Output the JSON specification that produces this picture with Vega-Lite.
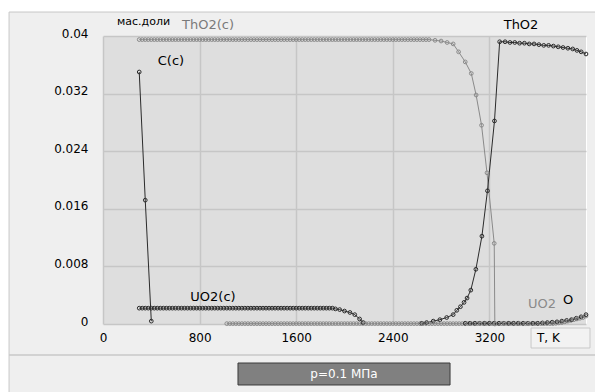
{
  "$schema": "https://vega.github.io/schema/vega-lite/v6.json",
  "width": 483,
  "height": 288,
  "autosize": "none",
  "padding": {"left": 103, "top": 36, "right": 9, "bottom": 68},
  "background": "#efefef",
  "config": {
    "view": {"fill": "#dedede", "stroke": "#ffffff", "strokeWidth": 1},
    "text": {"font": "DejaVu Sans", "fontSize": 12}
  },
  "datasets": {
    "one": [{}],
    "series": [
      {"s":"ThO2(c)","T":300,"v":0.0395},{"s":"ThO2(c)","T":325,"v":0.0395},{"s":"ThO2(c)","T":350,"v":0.0395},{"s":"ThO2(c)","T":375,"v":0.0395},{"s":"ThO2(c)","T":400,"v":0.0395},{"s":"ThO2(c)","T":425,"v":0.0395},{"s":"ThO2(c)","T":450,"v":0.0395},{"s":"ThO2(c)","T":475,"v":0.0395},{"s":"ThO2(c)","T":500,"v":0.0395},{"s":"ThO2(c)","T":525,"v":0.0395},{"s":"ThO2(c)","T":550,"v":0.0395},{"s":"ThO2(c)","T":575,"v":0.0395},{"s":"ThO2(c)","T":600,"v":0.0395},{"s":"ThO2(c)","T":625,"v":0.0395},{"s":"ThO2(c)","T":650,"v":0.0395},{"s":"ThO2(c)","T":675,"v":0.0395},{"s":"ThO2(c)","T":700,"v":0.0395},{"s":"ThO2(c)","T":725,"v":0.0395},{"s":"ThO2(c)","T":750,"v":0.0395},{"s":"ThO2(c)","T":775,"v":0.0395},{"s":"ThO2(c)","T":800,"v":0.0395},{"s":"ThO2(c)","T":825,"v":0.0395},{"s":"ThO2(c)","T":850,"v":0.0395},{"s":"ThO2(c)","T":875,"v":0.0395},{"s":"ThO2(c)","T":900,"v":0.0395},{"s":"ThO2(c)","T":925,"v":0.0395},{"s":"ThO2(c)","T":950,"v":0.0395},{"s":"ThO2(c)","T":975,"v":0.0395},{"s":"ThO2(c)","T":1000,"v":0.0395},{"s":"ThO2(c)","T":1025,"v":0.0395},{"s":"ThO2(c)","T":1050,"v":0.0395},{"s":"ThO2(c)","T":1075,"v":0.0395},{"s":"ThO2(c)","T":1100,"v":0.0395},{"s":"ThO2(c)","T":1125,"v":0.0395},{"s":"ThO2(c)","T":1150,"v":0.0395},{"s":"ThO2(c)","T":1175,"v":0.0395},{"s":"ThO2(c)","T":1200,"v":0.0395},{"s":"ThO2(c)","T":1225,"v":0.0395},{"s":"ThO2(c)","T":1250,"v":0.0395},{"s":"ThO2(c)","T":1275,"v":0.0395},{"s":"ThO2(c)","T":1300,"v":0.0395},{"s":"ThO2(c)","T":1325,"v":0.0395},{"s":"ThO2(c)","T":1350,"v":0.0395},{"s":"ThO2(c)","T":1375,"v":0.0395},{"s":"ThO2(c)","T":1400,"v":0.0395},{"s":"ThO2(c)","T":1425,"v":0.0395},{"s":"ThO2(c)","T":1450,"v":0.0395},{"s":"ThO2(c)","T":1475,"v":0.0395},{"s":"ThO2(c)","T":1500,"v":0.0395},{"s":"ThO2(c)","T":1525,"v":0.0395},{"s":"ThO2(c)","T":1550,"v":0.0395},{"s":"ThO2(c)","T":1575,"v":0.0395},{"s":"ThO2(c)","T":1600,"v":0.0395},{"s":"ThO2(c)","T":1625,"v":0.0395},{"s":"ThO2(c)","T":1650,"v":0.0395},{"s":"ThO2(c)","T":1675,"v":0.0395},{"s":"ThO2(c)","T":1700,"v":0.0395},{"s":"ThO2(c)","T":1725,"v":0.0395},{"s":"ThO2(c)","T":1750,"v":0.0395},{"s":"ThO2(c)","T":1775,"v":0.0395},{"s":"ThO2(c)","T":1800,"v":0.0395},{"s":"ThO2(c)","T":1825,"v":0.0395},{"s":"ThO2(c)","T":1850,"v":0.0395},{"s":"ThO2(c)","T":1875,"v":0.0395},{"s":"ThO2(c)","T":1900,"v":0.0395},{"s":"ThO2(c)","T":1925,"v":0.0395},{"s":"ThO2(c)","T":1950,"v":0.0395},{"s":"ThO2(c)","T":1975,"v":0.0395},{"s":"ThO2(c)","T":2000,"v":0.0395},{"s":"ThO2(c)","T":2025,"v":0.0395},{"s":"ThO2(c)","T":2050,"v":0.0395},{"s":"ThO2(c)","T":2075,"v":0.0395},{"s":"ThO2(c)","T":2100,"v":0.0395},{"s":"ThO2(c)","T":2125,"v":0.0395},{"s":"ThO2(c)","T":2150,"v":0.0395},{"s":"ThO2(c)","T":2175,"v":0.0395},{"s":"ThO2(c)","T":2200,"v":0.0395},{"s":"ThO2(c)","T":2225,"v":0.0395},{"s":"ThO2(c)","T":2250,"v":0.0395},{"s":"ThO2(c)","T":2275,"v":0.0395},{"s":"ThO2(c)","T":2300,"v":0.0395},{"s":"ThO2(c)","T":2325,"v":0.0395},{"s":"ThO2(c)","T":2350,"v":0.0395},{"s":"ThO2(c)","T":2375,"v":0.0395},{"s":"ThO2(c)","T":2400,"v":0.0395},{"s":"ThO2(c)","T":2425,"v":0.0395},{"s":"ThO2(c)","T":2450,"v":0.0395},{"s":"ThO2(c)","T":2475,"v":0.0395},{"s":"ThO2(c)","T":2500,"v":0.0395},{"s":"ThO2(c)","T":2525,"v":0.0395},{"s":"ThO2(c)","T":2550,"v":0.0395},{"s":"ThO2(c)","T":2575,"v":0.0395},{"s":"ThO2(c)","T":2600,"v":0.0395},{"s":"ThO2(c)","T":2625,"v":0.0395},{"s":"ThO2(c)","T":2650,"v":0.0395},{"s":"ThO2(c)","T":2675,"v":0.0395},{"s":"ThO2(c)","T":2700,"v":0.0395},
      {"s":"ThO2(c)","T":2750,"v":0.0394},{"s":"ThO2(c)","T":2800,"v":0.0393},{"s":"ThO2(c)","T":2850,"v":0.0391},{"s":"ThO2(c)","T":2900,"v":0.0389},{"s":"ThO2(c)","T":2945,"v":0.0378},{"s":"ThO2(c)","T":3000,"v":0.0364},{"s":"ThO2(c)","T":3050,"v":0.0348},{"s":"ThO2(c)","T":3090,"v":0.0318},{"s":"ThO2(c)","T":3135,"v":0.0276},{"s":"ThO2(c)","T":3180,"v":0.021},{"s":"ThO2(c)","T":3240,"v":0.0112},{"s":"ThO2(c)","T":3245,"v":0},

      {"s":"UO2","T":1025,"v":0.00005},{"s":"UO2","T":1050,"v":0.00005},{"s":"UO2","T":1075,"v":0.00005},{"s":"UO2","T":1100,"v":0.00005},{"s":"UO2","T":1125,"v":0.00005},{"s":"UO2","T":1150,"v":0.00005},{"s":"UO2","T":1175,"v":0.00005},{"s":"UO2","T":1200,"v":0.00005},{"s":"UO2","T":1225,"v":0.00005},{"s":"UO2","T":1250,"v":0.00005},{"s":"UO2","T":1275,"v":0.00005},{"s":"UO2","T":1300,"v":0.00005},{"s":"UO2","T":1325,"v":0.00005},{"s":"UO2","T":1350,"v":0.00005},{"s":"UO2","T":1375,"v":0.00005},{"s":"UO2","T":1400,"v":0.00005},{"s":"UO2","T":1425,"v":0.00005},{"s":"UO2","T":1450,"v":0.00005},{"s":"UO2","T":1475,"v":0.00005},{"s":"UO2","T":1500,"v":0.00005},{"s":"UO2","T":1525,"v":0.00005},{"s":"UO2","T":1550,"v":0.00005},{"s":"UO2","T":1575,"v":0.00005},{"s":"UO2","T":1600,"v":0.00005},{"s":"UO2","T":1625,"v":0.00005},{"s":"UO2","T":1650,"v":0.00005},{"s":"UO2","T":1675,"v":0.00005},{"s":"UO2","T":1700,"v":0.00005},{"s":"UO2","T":1725,"v":0.00005},{"s":"UO2","T":1750,"v":0.00005},{"s":"UO2","T":1775,"v":0.00005},{"s":"UO2","T":1800,"v":0.00005},{"s":"UO2","T":1825,"v":0.00005},{"s":"UO2","T":1850,"v":0.00005},{"s":"UO2","T":1875,"v":0.00005},{"s":"UO2","T":1900,"v":0.00005},{"s":"UO2","T":1925,"v":0.00005},{"s":"UO2","T":1950,"v":0.00005},{"s":"UO2","T":1975,"v":0.00005},{"s":"UO2","T":2000,"v":0.00005},{"s":"UO2","T":2025,"v":0.00005},{"s":"UO2","T":2050,"v":0.00005},{"s":"UO2","T":2075,"v":0.00005},{"s":"UO2","T":2100,"v":0.00005},{"s":"UO2","T":2125,"v":0.00005},{"s":"UO2","T":2150,"v":0.00005},{"s":"UO2","T":2175,"v":0.00005},{"s":"UO2","T":2200,"v":0.00005},{"s":"UO2","T":2225,"v":0.00005},{"s":"UO2","T":2250,"v":0.00005},{"s":"UO2","T":2275,"v":0.00005},{"s":"UO2","T":2300,"v":0.00005},{"s":"UO2","T":2325,"v":0.00005},{"s":"UO2","T":2350,"v":0.00005},{"s":"UO2","T":2375,"v":0.00005},{"s":"UO2","T":2400,"v":0.00005},{"s":"UO2","T":2425,"v":0.00005},{"s":"UO2","T":2450,"v":0.00005},{"s":"UO2","T":2475,"v":0.00005},{"s":"UO2","T":2500,"v":0.00005},{"s":"UO2","T":2525,"v":0.00005},{"s":"UO2","T":2550,"v":0.00005},{"s":"UO2","T":2575,"v":0.00005},{"s":"UO2","T":2600,"v":0.00005},{"s":"UO2","T":2625,"v":0.00005},{"s":"UO2","T":2650,"v":0.00005},{"s":"UO2","T":2675,"v":0.00005},{"s":"UO2","T":2700,"v":0.00005},{"s":"UO2","T":2725,"v":0.00005},{"s":"UO2","T":2750,"v":0.00005},{"s":"UO2","T":2775,"v":0.00005},{"s":"UO2","T":2800,"v":0.00005},{"s":"UO2","T":2825,"v":0.00005},{"s":"UO2","T":2850,"v":0.00005},{"s":"UO2","T":2875,"v":0.00005},{"s":"UO2","T":2900,"v":0.00005},{"s":"UO2","T":2925,"v":0.00005},{"s":"UO2","T":2950,"v":0.00005},{"s":"UO2","T":2975,"v":0.00005},{"s":"UO2","T":3000,"v":0.00005},{"s":"UO2","T":3025,"v":0.00005},{"s":"UO2","T":3050,"v":0.00005},{"s":"UO2","T":3075,"v":0.00005},{"s":"UO2","T":3100,"v":0.00005},{"s":"UO2","T":3125,"v":0.00005},{"s":"UO2","T":3150,"v":0.00005},{"s":"UO2","T":3175,"v":0.00005},{"s":"UO2","T":3200,"v":0.00005},{"s":"UO2","T":3225,"v":0.00005},{"s":"UO2","T":3250,"v":0.00005},{"s":"UO2","T":3275,"v":0.00005},{"s":"UO2","T":3300,"v":0.00005},{"s":"UO2","T":3325,"v":0.00005},{"s":"UO2","T":3350,"v":0.00005},{"s":"UO2","T":3375,"v":0.00005},{"s":"UO2","T":3400,"v":0.00005},{"s":"UO2","T":3425,"v":0.00005},{"s":"UO2","T":3450,"v":0.00005},{"s":"UO2","T":3475,"v":0.00005},{"s":"UO2","T":3500,"v":0.00005},{"s":"UO2","T":3525,"v":0.00005},{"s":"UO2","T":3550,"v":0.00005},{"s":"UO2","T":3575,"v":0.00005},{"s":"UO2","T":3600,"v":0.00005},{"s":"UO2","T":3625,"v":0.00005},{"s":"UO2","T":3650,"v":0.00005},{"s":"UO2","T":3675,"v":0.00005},{"s":"UO2","T":3700,"v":0.00005},{"s":"UO2","T":3725,"v":0.00005},
      {"s":"UO2","T":3750,"v":0.0001},{"s":"UO2","T":3775,"v":0.00015},{"s":"UO2","T":3800,"v":0.0002},{"s":"UO2","T":3825,"v":0.0003},{"s":"UO2","T":3850,"v":0.0004},{"s":"UO2","T":3875,"v":0.0005},{"s":"UO2","T":3900,"v":0.0006},{"s":"UO2","T":3925,"v":0.0007},{"s":"UO2","T":3950,"v":0.0008},{"s":"UO2","T":3975,"v":0.0009},{"s":"UO2","T":4000,"v":0.0011},

      {"s":"UO2(c)","T":300,"v":0.0022},{"s":"UO2(c)","T":325,"v":0.0022},{"s":"UO2(c)","T":350,"v":0.0022},{"s":"UO2(c)","T":375,"v":0.0022},{"s":"UO2(c)","T":400,"v":0.0022},{"s":"UO2(c)","T":425,"v":0.0022},{"s":"UO2(c)","T":450,"v":0.0022},{"s":"UO2(c)","T":475,"v":0.0022},{"s":"UO2(c)","T":500,"v":0.0022},{"s":"UO2(c)","T":525,"v":0.0022},{"s":"UO2(c)","T":550,"v":0.0022},{"s":"UO2(c)","T":575,"v":0.0022},{"s":"UO2(c)","T":600,"v":0.0022},{"s":"UO2(c)","T":625,"v":0.0022},{"s":"UO2(c)","T":650,"v":0.0022},{"s":"UO2(c)","T":675,"v":0.0022},{"s":"UO2(c)","T":700,"v":0.0022},{"s":"UO2(c)","T":725,"v":0.0022},{"s":"UO2(c)","T":750,"v":0.0022},{"s":"UO2(c)","T":775,"v":0.0022},{"s":"UO2(c)","T":800,"v":0.0022},{"s":"UO2(c)","T":825,"v":0.0022},{"s":"UO2(c)","T":850,"v":0.0022},{"s":"UO2(c)","T":875,"v":0.0022},{"s":"UO2(c)","T":900,"v":0.0022},{"s":"UO2(c)","T":925,"v":0.0022},{"s":"UO2(c)","T":950,"v":0.0022},{"s":"UO2(c)","T":975,"v":0.0022},{"s":"UO2(c)","T":1000,"v":0.0022},{"s":"UO2(c)","T":1025,"v":0.0022},{"s":"UO2(c)","T":1050,"v":0.0022},{"s":"UO2(c)","T":1075,"v":0.0022},{"s":"UO2(c)","T":1100,"v":0.0022},{"s":"UO2(c)","T":1125,"v":0.0022},{"s":"UO2(c)","T":1150,"v":0.0022},{"s":"UO2(c)","T":1175,"v":0.0022},{"s":"UO2(c)","T":1200,"v":0.0022},{"s":"UO2(c)","T":1225,"v":0.0022},{"s":"UO2(c)","T":1250,"v":0.0022},{"s":"UO2(c)","T":1275,"v":0.0022},{"s":"UO2(c)","T":1300,"v":0.0022},{"s":"UO2(c)","T":1325,"v":0.0022},{"s":"UO2(c)","T":1350,"v":0.0022},{"s":"UO2(c)","T":1375,"v":0.0022},{"s":"UO2(c)","T":1400,"v":0.0022},{"s":"UO2(c)","T":1425,"v":0.0022},{"s":"UO2(c)","T":1450,"v":0.0022},{"s":"UO2(c)","T":1475,"v":0.0022},{"s":"UO2(c)","T":1500,"v":0.0022},{"s":"UO2(c)","T":1525,"v":0.0022},{"s":"UO2(c)","T":1550,"v":0.0022},{"s":"UO2(c)","T":1575,"v":0.0022},{"s":"UO2(c)","T":1600,"v":0.0022},{"s":"UO2(c)","T":1625,"v":0.0022},{"s":"UO2(c)","T":1650,"v":0.0022},{"s":"UO2(c)","T":1675,"v":0.0022},{"s":"UO2(c)","T":1700,"v":0.0022},{"s":"UO2(c)","T":1725,"v":0.0022},{"s":"UO2(c)","T":1750,"v":0.0022},{"s":"UO2(c)","T":1775,"v":0.0022},{"s":"UO2(c)","T":1800,"v":0.0022},{"s":"UO2(c)","T":1825,"v":0.0022},{"s":"UO2(c)","T":1850,"v":0.0022},{"s":"UO2(c)","T":1875,"v":0.0022},
      {"s":"UO2(c)","T":1900,"v":0.0022},{"s":"UO2(c)","T":1925,"v":0.0021},{"s":"UO2(c)","T":1960,"v":0.002},{"s":"UO2(c)","T":2000,"v":0.0018},{"s":"UO2(c)","T":2045,"v":0.0016},{"s":"UO2(c)","T":2085,"v":0.0013},{"s":"UO2(c)","T":2125,"v":0.0007},{"s":"UO2(c)","T":2155,"v":0.0002},

      {"s":"C(c)","T":300,"v":0.035},{"s":"C(c)","T":350,"v":0.0172},{"s":"C(c)","T":400,"v":0.0004},

      {"s":"ThO2","T":2640,"v":0.0001},{"s":"ThO2","T":2680,"v":0.0002},{"s":"ThO2","T":2735,"v":0.0004},{"s":"ThO2","T":2790,"v":0.0006},{"s":"ThO2","T":2846,"v":0.0009},{"s":"ThO2","T":2900,"v":0.0013},{"s":"ThO2","T":2930,"v":0.0019},{"s":"ThO2","T":2960,"v":0.0024},{"s":"ThO2","T":2990,"v":0.003},{"s":"ThO2","T":3015,"v":0.0036},{"s":"ThO2","T":3046,"v":0.0047},{"s":"ThO2","T":3088,"v":0.0076},{"s":"ThO2","T":3138,"v":0.0122},{"s":"ThO2","T":3184,"v":0.0185},{"s":"ThO2","T":3242,"v":0.0282},{"s":"ThO2","T":3285,"v":0.0392},{"s":"ThO2","T":3330,"v":0.0392},{"s":"ThO2","T":3370,"v":0.0391},{"s":"ThO2","T":3410,"v":0.0391},{"s":"ThO2","T":3450,"v":0.039},{"s":"ThO2","T":3490,"v":0.039},{"s":"ThO2","T":3530,"v":0.0389},{"s":"ThO2","T":3570,"v":0.0389},{"s":"ThO2","T":3610,"v":0.0388},{"s":"ThO2","T":3650,"v":0.0387},{"s":"ThO2","T":3690,"v":0.0387},{"s":"ThO2","T":3730,"v":0.0386},{"s":"ThO2","T":3770,"v":0.0385},{"s":"ThO2","T":3810,"v":0.0384},{"s":"ThO2","T":3850,"v":0.0383},{"s":"ThO2","T":3890,"v":0.0382},{"s":"ThO2","T":3925,"v":0.038},{"s":"ThO2","T":3960,"v":0.0378},{"s":"ThO2","T":4000,"v":0.0375},

      {"s":"O","T":3000,"v":0.0001},{"s":"O","T":3040,"v":0.0001},{"s":"O","T":3080,"v":0.0001},{"s":"O","T":3120,"v":0.0001},{"s":"O","T":3160,"v":0.0001},{"s":"O","T":3200,"v":0.0001},{"s":"O","T":3240,"v":0.0001},{"s":"O","T":3280,"v":0.0001},{"s":"O","T":3320,"v":0.0001},{"s":"O","T":3360,"v":0.0001},{"s":"O","T":3400,"v":0.0001},{"s":"O","T":3440,"v":0.0001},{"s":"O","T":3480,"v":0.0001},{"s":"O","T":3520,"v":0.0001},{"s":"O","T":3560,"v":0.0001},{"s":"O","T":3600,"v":0.0001},{"s":"O","T":3640,"v":0.00015},{"s":"O","T":3680,"v":0.0002},{"s":"O","T":3720,"v":0.00025},{"s":"O","T":3760,"v":0.0003},{"s":"O","T":3800,"v":0.0004},{"s":"O","T":3840,"v":0.0005},{"s":"O","T":3880,"v":0.0006},{"s":"O","T":3920,"v":0.0008},{"s":"O","T":3960,"v":0.001},{"s":"O","T":4000,"v":0.0013}
    ]
  },
  "layer": [
    {
      "data": {"name": "one"},
      "mark": {"type": "rect", "fill": "#ffffff"},
      "encoding": {
        "x": {"datum": -900, "type": "quantitative", "scale": {"domain": [0, 4000], "nice": false, "zero": false}},
        "x2": {"datum": 4400},
        "y": {"datum": 0.04333, "type": "quantitative", "scale": {"domain": [0, 0.04], "nice": false, "zero": false}},
        "y2": {"datum": 0.046}
      }
    },
    {
      "data": {"name": "one"},
      "mark": {"type": "rect", "fill": "#ffffff"},
      "encoding": {
        "x": {"datum": -900, "type": "quantitative", "scale": {"domain": [0, 4000], "nice": false, "zero": false}},
        "x2": {"datum": -778},
        "y": {"datum": -0.012, "type": "quantitative", "scale": {"domain": [0, 0.04], "nice": false, "zero": false}},
        "y2": {"datum": 0.046}
      }
    },
    {
      "data": {"name": "one"},
      "mark": {"type": "rule", "color": "#c8c8c8", "strokeWidth": 1},
      "encoding": {
        "x": {"datum": -778, "type": "quantitative", "scale": {"domain": [0, 4000], "nice": false, "zero": false}},
        "x2": {"datum": 4400},
        "y": {"datum": 0.04333, "type": "quantitative", "scale": {"domain": [0, 0.04], "nice": false, "zero": false}}
      }
    },
    {
      "data": {"name": "one"},
      "mark": {"type": "rule", "color": "#c8c8c8", "strokeWidth": 1},
      "encoding": {
        "x": {"datum": -778, "type": "quantitative", "scale": {"domain": [0, 4000], "nice": false, "zero": false}},
        "y": {"datum": 0.04333, "type": "quantitative", "scale": {"domain": [0, 0.04], "nice": false, "zero": false}},
        "y2": {"datum": -0.012}
      }
    },
    {
      "data": {"name": "one"},
      "mark": {"type": "rule", "color": "#c8c8c8", "strokeWidth": 1.5},
      "encoding": {
        "x": {"datum": -778, "type": "quantitative", "scale": {"domain": [0, 4000], "nice": false, "zero": false}},
        "x2": {"datum": 4400},
        "y": {"datum": -0.004306, "type": "quantitative", "scale": {"domain": [0, 0.04], "nice": false, "zero": false}}
      }
    },
    {
      "data": {"name": "one"},
      "mark": {"type": "rect", "fill": "#f2f2f2", "stroke": "#c8c8c8", "strokeWidth": 1},
      "encoding": {
        "x": {"datum": 3545, "type": "quantitative", "scale": {"domain": [0, 4000], "nice": false, "zero": false}},
        "x2": {"datum": 4033},
        "y": {"datum": -0.000556, "type": "quantitative", "scale": {"domain": [0, 0.04], "nice": false, "zero": false}},
        "y2": {"datum": -0.003333}
      }
    },
    {
      "data": {"name": "one"},
      "mark": {"type": "text", "text": "T, K", "align": "left", "baseline": "middle", "color": "#000000", "fontSize": 12},
      "encoding": {
        "x": {"datum": 3594, "type": "quantitative", "scale": {"domain": [0, 4000], "nice": false, "zero": false}},
        "y": {"datum": -0.001944, "type": "quantitative", "scale": {"domain": [0, 0.04], "nice": false, "zero": false}}
      }
    },
    {
      "data": {"name": "one"},
      "mark": {"type": "rect", "fill": "#808080", "stroke": "#3a3a3a", "strokeWidth": 1},
      "encoding": {
        "x": {"datum": 1118, "type": "quantitative", "scale": {"domain": [0, 4000], "nice": false, "zero": false}},
        "x2": {"datum": 2874},
        "y": {"datum": -0.005417, "type": "quantitative", "scale": {"domain": [0, 0.04], "nice": false, "zero": false}},
        "y2": {"datum": -0.008472}
      }
    },
    {
      "data": {"name": "one"},
      "mark": {"type": "text", "text": "p=0.1 МПа", "align": "center", "baseline": "middle", "color": "#ffffff", "fontSize": 12},
      "encoding": {
        "x": {"datum": 1996, "type": "quantitative", "scale": {"domain": [0, 4000], "nice": false, "zero": false}},
        "y": {"datum": -0.006944, "type": "quantitative", "scale": {"domain": [0, 0.04], "nice": false, "zero": false}}
      }
    },
    {
      "data": {"name": "series"},
      "mark": {"type": "line", "strokeWidth": 1, "point": {"filled": false, "size": 14, "strokeWidth": 1}},
      "encoding": {
        "x": {
          "field": "T", "type": "quantitative",
          "scale": {"domain": [0, 4000], "nice": false, "zero": false},
          "axis": {
            "values": [0, 800, 1600, 2400, 3200],
            "format": "d",
            "title": null, "domain": false, "ticks": false,
            "grid": true, "gridColor": "#c6c6c6", "gridWidth": 1.5,
            "labelFont": "DejaVu Sans", "labelFontSize": 12, "labelColor": "#000000",
            "labelPadding": 8, "labelFlush": false
          }
        },
        "y": {
          "field": "v", "type": "quantitative",
          "scale": {"domain": [0, 0.04], "nice": false, "zero": false},
          "axis": {
            "values": [0, 0.008, 0.016, 0.024, 0.032, 0.04],
            "format": ".3~f",
            "title": null, "domain": false, "ticks": false,
            "grid": true, "gridColor": "#c6c6c6", "gridWidth": 1.5,
            "labelFont": "DejaVu Sans", "labelFontSize": 12, "labelColor": "#000000",
            "labelPadding": 15, "labelOffset": -3, "labelFlush": false
          }
        },
        "color": {
          "field": "s", "type": "nominal", "legend": null,
          "scale": {
            "domain": ["ThO2(c)", "UO2", "UO2(c)", "C(c)", "ThO2", "O"],
            "range": ["#8a8a8a", "#8a8a8a", "#2b2b2b", "#2b2b2b", "#2b2b2b", "#2b2b2b"]
          }
        },
        "order": {"field": "T", "type": "quantitative"}
      }
    },
    {
      "data": {"name": "one"},
      "mark": {"type": "text", "text": "мас.доли", "align": "left", "baseline": "middle", "color": "#000000", "fontSize": 11},
      "encoding": {
        "x": {"datum": 116, "type": "quantitative", "scale": {"domain": [0, 4000], "nice": false, "zero": false}},
        "y": {"datum": 0.04194, "type": "quantitative", "scale": {"domain": [0, 0.04], "nice": false, "zero": false}}
      }
    },
    {
      "data": {"name": "one"},
      "mark": {"type": "text", "text": "ThO2(c)", "align": "center", "baseline": "middle", "color": "#7a7a7a", "fontSize": 13},
      "encoding": {
        "x": {"datum": 870, "type": "quantitative", "scale": {"domain": [0, 4000], "nice": false, "zero": false}},
        "y": {"datum": 0.04153, "type": "quantitative", "scale": {"domain": [0, 0.04], "nice": false, "zero": false}}
      }
    },
    {
      "data": {"name": "one"},
      "mark": {"type": "text", "text": "C(c)", "align": "center", "baseline": "middle", "color": "#000000", "fontSize": 13},
      "encoding": {
        "x": {"datum": 563, "type": "quantitative", "scale": {"domain": [0, 4000], "nice": false, "zero": false}},
        "y": {"datum": 0.03653, "type": "quantitative", "scale": {"domain": [0, 0.04], "nice": false, "zero": false}}
      }
    },
    {
      "data": {"name": "one"},
      "mark": {"type": "text", "text": "UO2(c)", "align": "center", "baseline": "middle", "color": "#000000", "fontSize": 13},
      "encoding": {
        "x": {"datum": 911, "type": "quantitative", "scale": {"domain": [0, 4000], "nice": false, "zero": false}},
        "y": {"datum": 0.00375, "type": "quantitative", "scale": {"domain": [0, 0.04], "nice": false, "zero": false}}
      }
    },
    {
      "data": {"name": "one"},
      "mark": {"type": "text", "text": "ThO2", "align": "center", "baseline": "middle", "color": "#000000", "fontSize": 13},
      "encoding": {
        "x": {"datum": 3462, "type": "quantitative", "scale": {"domain": [0, 4000], "nice": false, "zero": false}},
        "y": {"datum": 0.04153, "type": "quantitative", "scale": {"domain": [0, 0.04], "nice": false, "zero": false}}
      }
    },
    {
      "data": {"name": "one"},
      "mark": {"type": "text", "text": "UO2", "align": "center", "baseline": "middle", "color": "#8a8a8a", "fontSize": 13},
      "encoding": {
        "x": {"datum": 3636, "type": "quantitative", "scale": {"domain": [0, 4000], "nice": false, "zero": false}},
        "y": {"datum": 0.00278, "type": "quantitative", "scale": {"domain": [0, 0.04], "nice": false, "zero": false}}
      }
    },
    {
      "data": {"name": "one"},
      "mark": {"type": "text", "text": "O", "align": "center", "baseline": "middle", "color": "#000000", "fontSize": 13},
      "encoding": {
        "x": {"datum": 3851, "type": "quantitative", "scale": {"domain": [0, 4000], "nice": false, "zero": false}},
        "y": {"datum": 0.00333, "type": "quantitative", "scale": {"domain": [0, 0.04], "nice": false, "zero": false}}
      }
    }
  ]
}
